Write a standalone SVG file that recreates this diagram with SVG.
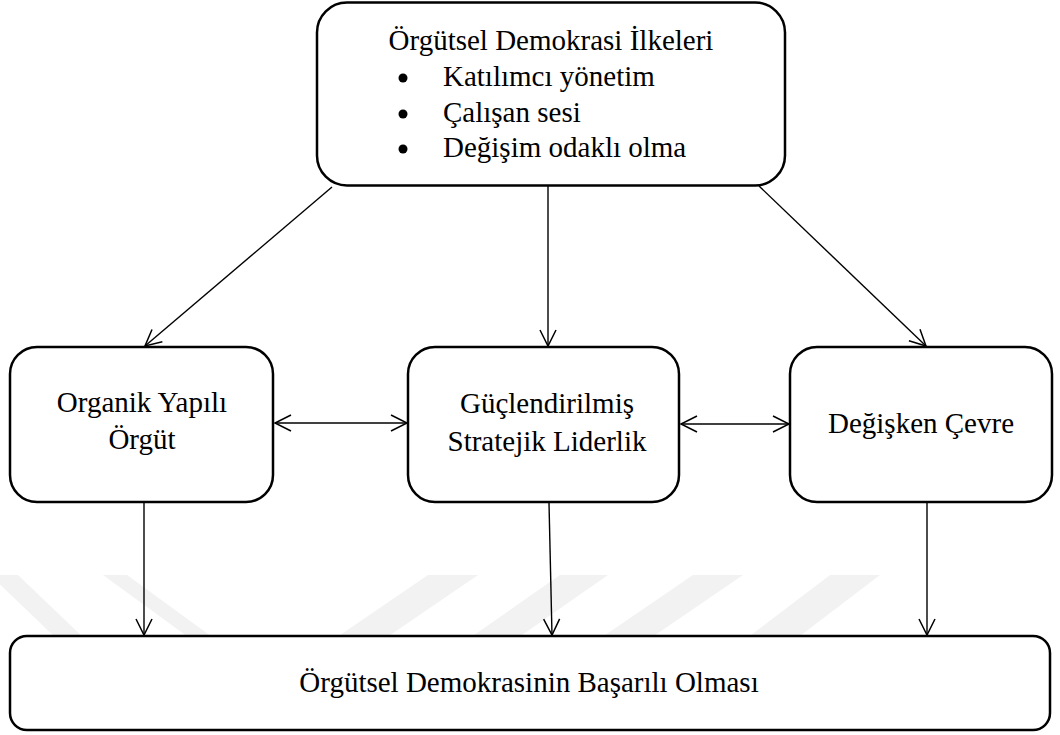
<svg xmlns="http://www.w3.org/2000/svg" width="1060" height="735" viewBox="0 0 1060 735">
  <style>
    .box { fill: #ffffff; stroke: #000000; stroke-width: 2.5; }
    .lbl { font-family: "Liberation Serif", "Times New Roman", serif; font-size: 29px; fill: #000000; }
    .ctr { text-anchor: middle; }
    .conn { stroke: #000000; stroke-width: 1.4; fill: none; marker-end: url(#arr); }
    .bi { marker-start: url(#arr); }
    .wm { fill: #f2f2f2; stroke: none; }
  </style>
  <defs>
    <marker id="arr" viewBox="-18 -10 20 20" refX="0" refY="0" markerWidth="20" markerHeight="20" markerUnits="userSpaceOnUse" orient="auto-start-reverse">
      <path d="M-16,-8 L0,0 L-16,8" fill="none" stroke="#000000" stroke-width="1.5"/>
    </marker>
  </defs>
  <rect x="0" y="0" width="1060" height="735" fill="#ffffff"/>

  <g id="watermark">
    <polygon class="wm" points="-10,575 18,575 88,642 60,642"/>
    <polygon class="wm" points="103,575 127,575 219,642 195,642"/>
    <polygon class="wm" points="428,575 478,575 380,642 330,642"/>
    <polygon class="wm" points="560,575 608,575 512,642 464,642"/>
    <polygon class="wm" points="693,575 743,575 645,642 595,642"/>
    <polygon class="wm" points="830,575 880,575 792,642 742,642"/>
  </g>

  <g id="connectors">
    <line class="conn" x1="332" y1="187" x2="145" y2="346"/>
    <line class="conn" x1="548" y1="186" x2="548" y2="346"/>
    <line class="conn" x1="759" y1="186" x2="926" y2="346"/>
    <line class="conn bi" x1="275" y1="423" x2="407" y2="423"/>
    <line class="conn bi" x1="681" y1="424" x2="789" y2="424"/>
    <line class="conn" x1="144" y1="503" x2="144" y2="635"/>
    <line class="conn" x1="549" y1="503" x2="552" y2="635"/>
    <line class="conn" x1="927" y1="503" x2="927" y2="635"/>
  </g>

  <g id="node-ilkeler">
    <rect class="box" x="317" y="2.5" width="468" height="183" rx="30" ry="30"/>
    <text class="lbl ctr" x="551" y="50">Örgütsel Demokrasi İlkeleri</text>
    <circle cx="403" cy="78" r="4.5"/>
    <text class="lbl" x="443" y="86">Katılımcı yönetim</text>
    <circle cx="403" cy="114" r="4.5"/>
    <text class="lbl" x="443" y="122">Çalışan sesi</text>
    <circle cx="403" cy="149" r="4.5"/>
    <text class="lbl" x="443" y="157">Değişim odaklı olma</text>
  </g>

  <g id="node-organik">
    <rect class="box" x="10" y="347" width="263" height="155" rx="27" ry="27"/>
    <text class="lbl ctr" x="142" y="412">Organik Yapılı</text>
    <text class="lbl ctr" x="142" y="449">Örgüt</text>
  </g>

  <g id="node-liderlik">
    <rect class="box" x="408" y="347" width="271" height="155" rx="27" ry="27"/>
    <text class="lbl ctr" x="547" y="413">Güçlendirilmiş</text>
    <text class="lbl ctr" x="547" y="451">Stratejik Liderlik</text>
  </g>

  <g id="node-cevre">
    <rect class="box" x="790" y="347" width="262" height="155" rx="27" ry="27"/>
    <text class="lbl ctr" x="921" y="433">Değişken Çevre</text>
  </g>

  <g id="node-basari">
    <rect class="box" x="10" y="636" width="1040" height="94" rx="17" ry="17"/>
    <text class="lbl ctr" x="529" y="692">Örgütsel Demokrasinin Başarılı Olması</text>
  </g>
</svg>
